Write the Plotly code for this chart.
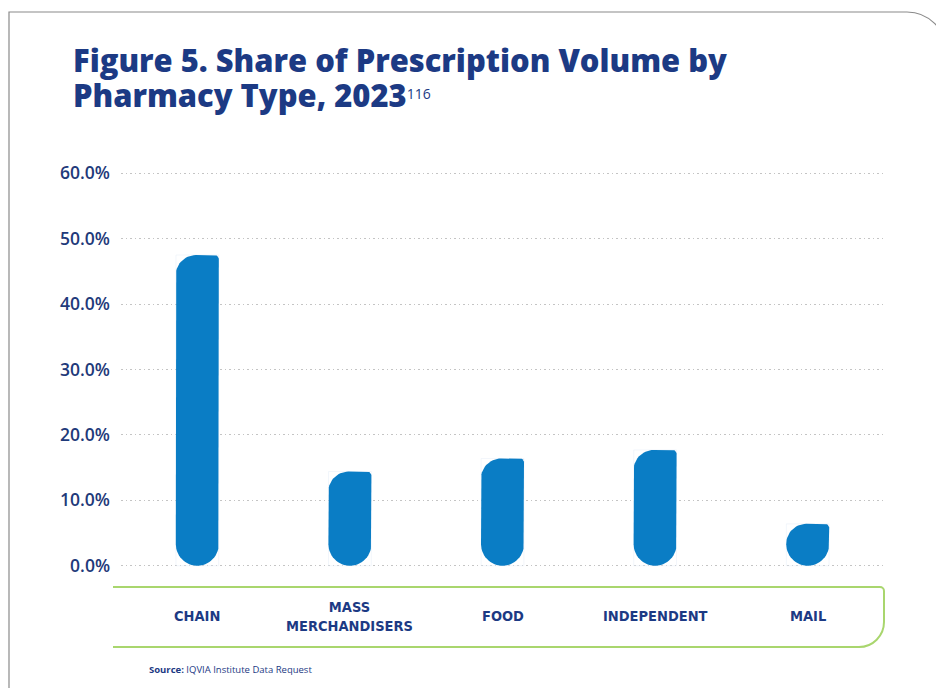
import plotly.graph_objects as go
import numpy as np

# ---- data ----
categories = ["CHAIN", "MASS<br>MERCHANDISERS", "FOOD", "INDEPENDENT", "MAIL"]
share_pct = [47.5, 14.4, 16.4, 17.7, 6.4]
y_tick_vals = [0, 10, 20, 30, 40, 50, 60]
y_tick_text = ["0.0%", "10.0%", "20.0%", "30.0%", "40.0%", "50.0%", "60.0%"]

W, H = 936, 688
ML, MR, MT, MB = 121, 52, 170, 119
PW, PH = W - ML - MR, H - MT - MB
XR = [-0.5, 4.5]
YR = [-0.5, 60.5]
xs = PW / (XR[1] - XR[0])   # px per x unit
ys = PH / (YR[1] - YR[0])   # px per y unit

NAVY = "#1c3a84"
TICK = "#1f3a7a"
BLUE = "#0a7dc5"
GREEN = "#a9d66e"


def px(x):
    return (x - ML) / PW


def py(y):
    return (H - MB - y) / PH


def arc(cx, cy, rx, ry, a0, a1, n=16):
    t = np.linspace(np.radians(a0), np.radians(a1), n)
    return list(cx + rx * np.cos(t)), list(cy + ry * np.sin(t))


fig = go.Figure()

# invisible bar trace carrying the data
fig.add_trace(go.Bar(x=list(range(len(categories))), y=share_pct, width=0.28,
                     marker=dict(color="rgba(0,0,0,0)"), hoverinfo="y", showlegend=False))

bar_px = 43
hw = bar_px / 2 / xs
rb_x, rb_y = hw, (bar_px / 2) / ys
rtl_x, rtl_y = 20 / xs, 20 / ys
rtr_x, rtr_y = 4 / xs, 4 / ys

for i, v in enumerate(share_pct):
    X, Y = [], []
    X += [i - hw, i - hw]; Y += [rb_y, v - rtl_y]
    ax, ay = arc(i - hw + rtl_x, v - rtl_y, rtl_x, rtl_y, 180, 90)
    X += ax; Y += ay
    ax, ay = arc(i + hw - rtr_x, v - rtr_y, rtr_x, rtr_y, 90, 0, 8)
    X += ax; Y += ay
    X += [i + hw]; Y += [rb_y]
    ax, ay = arc(i, rb_y, rb_x, rb_y, 0, -180, 30)
    X += ax; Y += ay
    fig.add_trace(go.Scatter(x=X, y=Y, fill="toself", mode="lines",
                             line=dict(width=0, color=BLUE), fillcolor=BLUE,
                             hoverinfo="skip", showlegend=False))

# category labels inside green band
for i, c in enumerate(categories):
    fig.add_annotation(x=i, xref="x", y=py(616), yref="paper", yanchor="middle",
                       text=c, showarrow=False,
                       font=dict(family="Liberation Sans Narrow, DejaVu Sans Condensed, Open Sans",
                                 size=14.5, color=NAVY, weight=700))

# title (two lines)
fig.add_annotation(x=px(71), xref="paper", xanchor="left", y=py(60), yref="paper", yanchor="middle",
                   text="Figure 5. Share of Prescription Volume by", showarrow=False,
                   font=dict(family="Open Sans", size=30.9, color=NAVY, weight=800))
fig.add_annotation(x=px(71), xref="paper", xanchor="left", y=py(95), yref="paper", yanchor="middle",
                   text="Pharmacy Type, 2023<span style='font-size:20px;font-weight:400'><sup>116</sup></span>",
                   showarrow=False,
                   font=dict(family="Open Sans", size=30.9, color=NAVY, weight=800))

# source
fig.add_annotation(x=px(147), xref="paper", xanchor="left", y=py(669), yref="paper", yanchor="middle",
                   text="<b>Source:</b> IQVIA Institute Data Request", showarrow=False,
                   font=dict(family="Open Sans", size=9.5, color=NAVY))

# green band outline (open on left)
gx0, gx1, gy0, gy1 = 113, 884, 587, 647
r1, r2 = 4, 25
k = 0.5523
green_path = (
    f"M {px(gx0)},{py(gy0)} L {px(gx1 - r1)},{py(gy0)} "
    f"C {px(gx1 - r1 + k*r1)},{py(gy0)} {px(gx1)},{py(gy0 + r1 - k*r1)} {px(gx1)},{py(gy0 + r1)} "
    f"L {px(gx1)},{py(gy1 - r2)} "
    f"C {px(gx1)},{py(gy1 - r2 + k*r2)} {px(gx1 - r2 + k*r2)},{py(gy1)} {px(gx1 - r2)},{py(gy1)} "
    f"L {px(gx0)},{py(gy1)}"
)
fig.add_shape(type="path", path=green_path, xref="paper", yref="paper",
              line=dict(color=GREEN, width=2), layer="below")

# outer gray frame
R = 39
frame_path = (
    f"M {px(9)},{py(700)} L {px(9)},{py(12)} L {px(907)},{py(12)} "
    f"C {px(907 + k*R)},{py(12)} {px(907 + R)},{py(12 + R - k*R)} {px(907 + R)},{py(12 + R)} "
    f"L {px(907 + R)},{py(700)}"
)
fig.add_shape(type="path", path=frame_path, xref="paper", yref="paper",
              line=dict(color="#8a8a8a", width=1.2), layer="below")

fig.update_layout(
    width=W, height=H,
    margin=dict(l=ML, r=MR, t=MT, b=MB),
    paper_bgcolor="white", plot_bgcolor="white",
    showlegend=False,
    xaxis=dict(range=XR, showticklabels=False, showgrid=False, zeroline=False,
               showline=False, ticks=""),
    yaxis=dict(range=YR, tickmode="array", tickvals=y_tick_vals, ticktext=y_tick_text,
               showgrid=True, gridcolor="#c4c4c4", griddash="1.5px,3px", gridwidth=1,
               zeroline=False, showline=False, ticks="", ticklabelstandoff=10,
               tickfont=dict(family="Open Sans", size=17.5, color=TICK, weight=600)),
)

fig.write_html("out.html")
